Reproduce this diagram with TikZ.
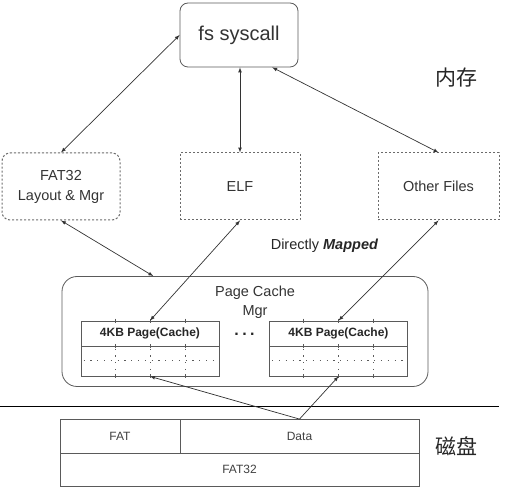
\documentclass[tikz,border=0pt]{standalone}
\usepackage{fontspec}
\setmainfont{Liberation Sans}
\newfontfamily\cjk{Noto Sans CJK SC}
\usetikzlibrary{calc}
\definecolor{rahmen}{HTML}{5A5A5A}

\begin{document}
\begin{tikzpicture}
				[
				x=1pt, y=-1pt, >=latex, line width=0.8pt,
				%Voreinstellungen fuer Kaesten und Pfeile
				beschriftung/.style={inner sep=0pt, align=center, text=black!80, font=\fontsize{14.5}{20}\selectfont},
				kasten/.style={beschriftung, draw=rahmen},
				gestrichelt/.style={kasten, draw=rahmen!90, line width=1pt, dash pattern=on 2.2pt off 1.8pt},
				seite/.style={draw=rahmen, inner sep=0pt, minimum width=138pt, text=black!85, font=\bfseries\fontsize{12}{14}\selectfont},
				platte/.style={draw=rahmen, inner sep=0pt, text=black!75, font=\fontsize{12}{14}\selectfont},
				punktiert/.style={draw=rahmen, line width=1pt, dash pattern=on 1.2pt off 5.6pt},
				pfeil/.style={draw=black!80, line width=0.7pt}
				]
				
				\useasboundingbox (0,0) rectangle (509,502);
				
				%Speicher oben
				\node [kasten, rounded corners=8pt, minimum width=118pt, minimum height=64pt, font=\fontsize{20}{24}\selectfont] (sys) at (239,35) {fs syscall};
				\node [gestrichelt, rounded corners=8pt, minimum width=118pt, minimum height=67pt] (fat) at (61,186.5) {FAT32\\Layout \& Mgr};
				\node [gestrichelt, minimum width=120pt, minimum height=67pt] (elf) at (240,186.5) {ELF};
				\node [gestrichelt, minimum width=121pt, minimum height=67pt] (other) at (438.5,186.5) {Other Files};
				\node [font=\cjk\fontsize{21}{21}\selectfont, text=black!85] (mem) at (456,78) {内存};
				\node [beschriftung, text=black!85] (mapped) at (324.5,246) {Directly \textbf{\textit{Mapped}}};
				
				%Page Cache
				\node [draw=rahmen, rounded corners=15pt, minimum width=366pt, minimum height=110pt] (pcm) at (245,331.5) {};
				\node [beschriftung, font=\fontsize{14.5}{19}\selectfont] (pcmtext) at (255,302) {Page Cache\\Mgr};
				\node [seite, minimum height=25pt] (seiteA) at (150,333.5) {4KB Page(Cache)};
				\node [seite, minimum height=30pt] (blockA) at (150,361) {};
				\node [seite, minimum height=25pt] (seiteB) at (338.5,333.5) {4KB Page(Cache)};
				\node [seite, minimum height=30pt] (blockB) at (338.5,361) {};
				\node [text=black!85, font=\bfseries\fontsize{16}{16}\selectfont] (punkte) at (244.5,334) {.\hspace{3.5pt}.\hspace{3.5pt}.};
				
				%Unterteilung der Seiten
				\foreach \s in {A,B}
				{
				\draw [punktiert] ($(block\s.west)+(3,0)$) -- (block\s.east);
				\foreach \dx in {-35,0,35}
				{
				\draw [punktiert] ($(block\s.north)+(\dx,3)$) -- ($(block\s.south)+(\dx,0)$);
				\draw [rahmen] ($(seite\s.north)+(\dx,-2)$) -- ++(0,4);
				\draw [rahmen] ($(seite\s.south)+(\dx,-2)$) -- ++(0,4);
				\draw [rahmen] ($(block\s.south)+(\dx,-2)$) -- ++(0,4);
				}
				}
				
				%Trennlinie
				\draw [line width=0.9pt] (0,406) -- (499,406);
				
				%Platte unten
				\node [platte, minimum width=120pt, minimum height=34pt] (fatteil) at (120,436.5) {FAT};
				\node [platte, minimum width=239pt, minimum height=34pt] (data) at (299.5,436.5) {Data};
				\node [platte, minimum width=359pt, minimum height=33pt] (fat32) at (239.5,469.5) {FAT32};
				\node [font=\cjk\fontsize{21}{21}\selectfont, text=black!85] (disk) at (456,446) {磁盘};
				
				%Pfeile
				\draw [<->, pfeil] (fat.north) -- (sys.west);
				\draw [<->, pfeil] (elf.north) -- (elf.north |- sys.south);
				\draw [<->, pfeil] (other.north) -- ($(sys.south)!0.56!(sys.south east)$);
				\draw [<->, pfeil] (fat.south) -- ($(pcm.north west)!0.25!(pcm.north east)$);
				\draw [<->, pfeil] (elf.south) -- (seiteA.north);
				\draw [<->, pfeil] (other.south) -- (seiteB.north);
				\draw [->, pfeil] (data.north) -- (blockA.south);
				\draw [->, pfeil] (data.north) -- (blockB.south);
			\end{tikzpicture}
\end{document}
